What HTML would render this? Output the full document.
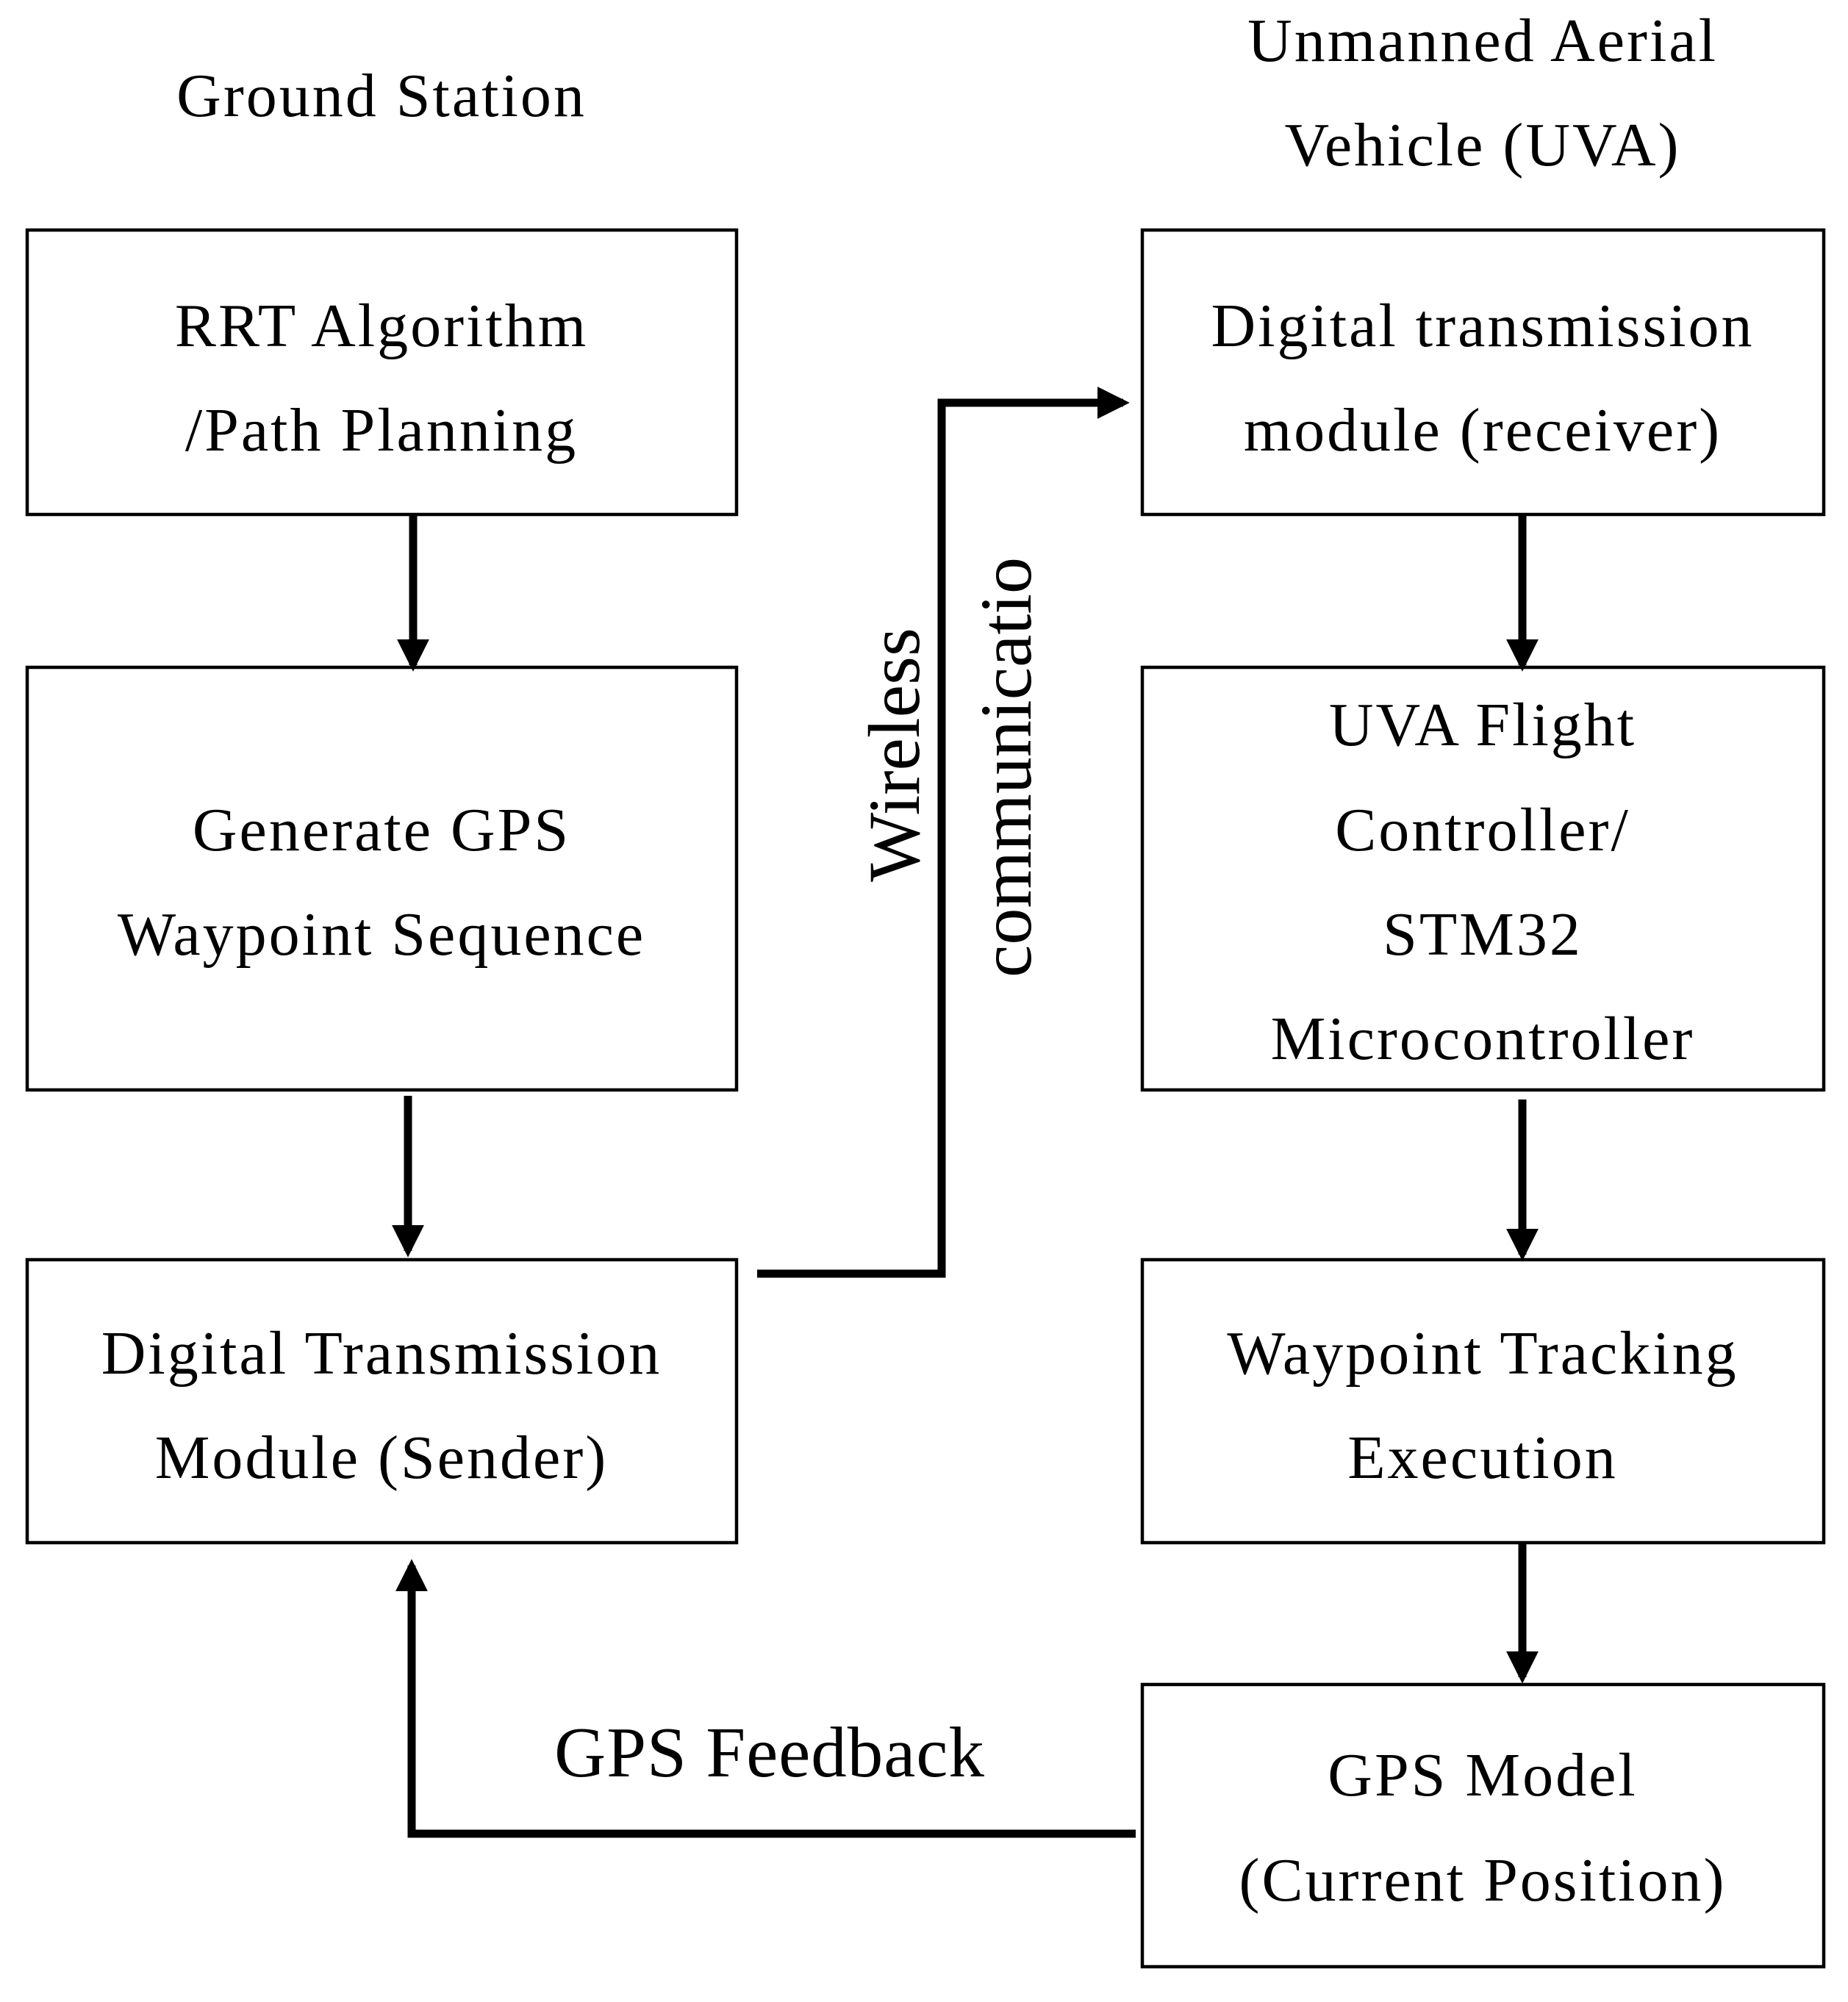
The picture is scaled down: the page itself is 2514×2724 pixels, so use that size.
<!DOCTYPE html>
<html><head><meta charset="utf-8"><style>html,body{margin:0;padding:0;background:#fff}</style></head>
<body>
<svg width="2514" height="2719" xmlns="http://www.w3.org/2000/svg" font-family="'Liberation Serif', serif" fill="#000">
<defs><marker id="a" markerWidth="4" markerHeight="4" refX="3.2" refY="2" orient="auto" markerUnits="strokeWidth"><path d="M0,0 L4,2 L0,4 z"/></marker></defs>
<g fill="none" stroke="#000" stroke-width="4.5">
<rect x="37" y="313" width="965" height="387"/>
<rect x="37" y="908" width="965" height="575"/>
<rect x="37" y="1714" width="965" height="385"/>
<rect x="1554" y="313" width="927" height="387"/>
<rect x="1554" y="908" width="927" height="575"/>
<rect x="1554" y="1714" width="927" height="385"/>
<rect x="1554" y="2292" width="927" height="384"/>
</g>
<g fill="none" stroke="#000" stroke-width="11" marker-end="url(#a)">
<line x1="562" y1="700" x2="562" y2="905"/>
<line x1="555" y1="1491" x2="555" y2="1702"/>
<line x1="2071" y1="700" x2="2071" y2="905"/>
<line x1="2071" y1="1496" x2="2071" y2="1707"/>
<line x1="2071" y1="2099" x2="2071" y2="2282"/>
<polyline points="1030,1733 1281,1733 1281,548 1528,548"/>
<polyline points="1545,2495 560,2495 560,2130"/>
</g>
<g font-size="84" text-anchor="middle" letter-spacing="3">
<text x="519" y="158">Ground Station</text>
<text x="2017" y="83">Unmanned Aerial</text>
<text x="2017" y="225">Vehicle (UVA)</text>
<text x="519" y="471">RRT Algorithm</text>
<text x="519" y="613">/Path Planning</text>
<text x="519" y="1157">Generate GPS</text>
<text x="519" y="1299">Waypoint Sequence</text>
<text x="519" y="1869">Digital Transmission</text>
<text x="519" y="2011">Module (Sender)</text>
<text x="2017" y="471">Digital transmission</text>
<text x="2017" y="613">module (receiver)</text>
<text x="2017" y="1014">UVA Flight</text>
<text x="2017" y="1157">Controller/</text>
<text x="2017" y="1299">STM32</text>
<text x="2017" y="1441">Microcontroller</text>
<text x="2017" y="1869">Waypoint Tracking</text>
<text x="2017" y="2011">Execution</text>
<text x="2017" y="2443">GPS Model</text>
<text x="2017" y="2586">(Current Position)</text>
<text x="1047" y="2417" font-size="97" letter-spacing="1">GPS Feedback</text>
<text transform="translate(1250,1027) rotate(-90)" font-size="100" letter-spacing="0">Wireless</text>
<text transform="translate(1402,1044) rotate(-90)" font-size="100" letter-spacing="0">communicatio</text>
</g>
</svg>
</body></html>
